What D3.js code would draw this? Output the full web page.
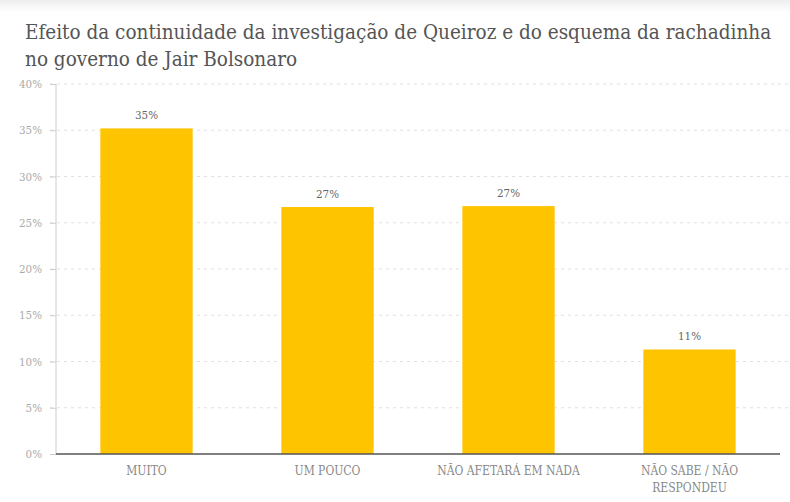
<!DOCTYPE html>
<html><head><meta charset="utf-8">
<script src="https://cdn.jsdelivr.net/npm/d3@7"></script>
<style>
body{margin:0;background:#fff;}
svg{display:block;}
</style></head>
<body>
<svg id="c" width="790" height="502"></svg>
<script>
const title = ["Efeito da continuidade da investigação de Queiroz e do esquema da rachadinha","no governo de Jair Bolsonaro"];
const categories = [["MUITO"],["UM POUCO"],["NÃO AFETARÁ EM NADA"],["NÃO SABE / NÃO","RESPONDEU"]];
const values = [35.2, 26.7, 26.8, 11.3];
const valueLabels = ["35%","27%","27%","11%"];
const yTicks = [0,5,10,15,20,25,30,35,40];

(function(){
const svg = d3.select("#c");
const font = "'Roboto Slab','DejaVu Serif Condensed','DejaVu Serif',serif";
const mLeft = 56, mRight = 780, mTop = 84, mBottom = 454;

const g0 = svg.append("defs").append("linearGradient").attr("id","tg").attr("x1",0).attr("x2",0).attr("y1",0).attr("y2",1);
g0.append("stop").attr("offset","0").attr("stop-color","#eee");
g0.append("stop").attr("offset","1").attr("stop-color","#fff");
svg.append("rect").attr("width",790).attr("height",12).attr("fill","url(#tg)");

svg.append("g").selectAll("text").data(title).join("text")
  .attr("x",25).attr("y",(d,i)=>39+i*27)
  .attr("font-family",font).attr("font-size",20.5).attr("font-weight",300)
  .attr("fill","#555").text(d=>d);

const x = d3.scaleBand().domain(d3.range(values.length)).range([mLeft,mRight]).paddingInner(0.49).paddingOuter(0.245);
const y = d3.scaleLinear().domain([0,40]).range([mBottom,mTop]);

svg.append("g").selectAll("line").data(yTicks.filter(t=>t>0)).join("line")
  .attr("x1",mLeft-6).attr("x2",790).attr("y1",d=>y(d)).attr("y2",d=>y(d))
  .attr("stroke","#e0e0e0").attr("stroke-dasharray","3,4");

const ya = svg.append("g").attr("transform",`translate(${mLeft},0)`)
  .call(d3.axisLeft(y).tickValues(yTicks).tickFormat(d=>d+"%").tickSize(6).tickPadding(8));
ya.select(".domain").attr("stroke","#ccc").attr("d",`M0,${mTop}V${mBottom}`);
ya.selectAll(".tick line").attr("stroke","#ccc");
ya.selectAll("text").attr("font-family",font).attr("font-size",11.5).attr("fill","#aaa");

svg.append("g").selectAll("rect").data(values).join("rect")
  .attr("x",(d,i)=>x(i)).attr("width",x.bandwidth())
  .attr("y",d=>y(d)).attr("height",d=>mBottom-y(d)).attr("fill","#ffc400");

svg.append("g").selectAll("text").data(values).join("text")
  .attr("x",(d,i)=>x(i)+x.bandwidth()/2).attr("y",d=>y(d)-9)
  .attr("text-anchor","middle").attr("font-family",font).attr("font-size",11.5)
  .attr("fill","#666").text((d,i)=>valueLabels[i]);

svg.append("line").attr("x1",mLeft).attr("x2",mRight).attr("y1",mBottom).attr("y2",mBottom)
  .attr("stroke","#555").attr("stroke-width",1.5);

const xl = svg.append("g").selectAll("text").data(categories).join("text")
  .attr("text-anchor","middle").attr("font-family",font).attr("font-size",12)
  .attr("fill","#888");
xl.each(function(d,i){
  d3.select(this).selectAll("tspan").data(d).join("tspan")
    .attr("x",x(i)+x.bandwidth()/2).attr("y",(t,j)=>475+j*17).text(t=>t);
});
})();
</script>
</body></html>
